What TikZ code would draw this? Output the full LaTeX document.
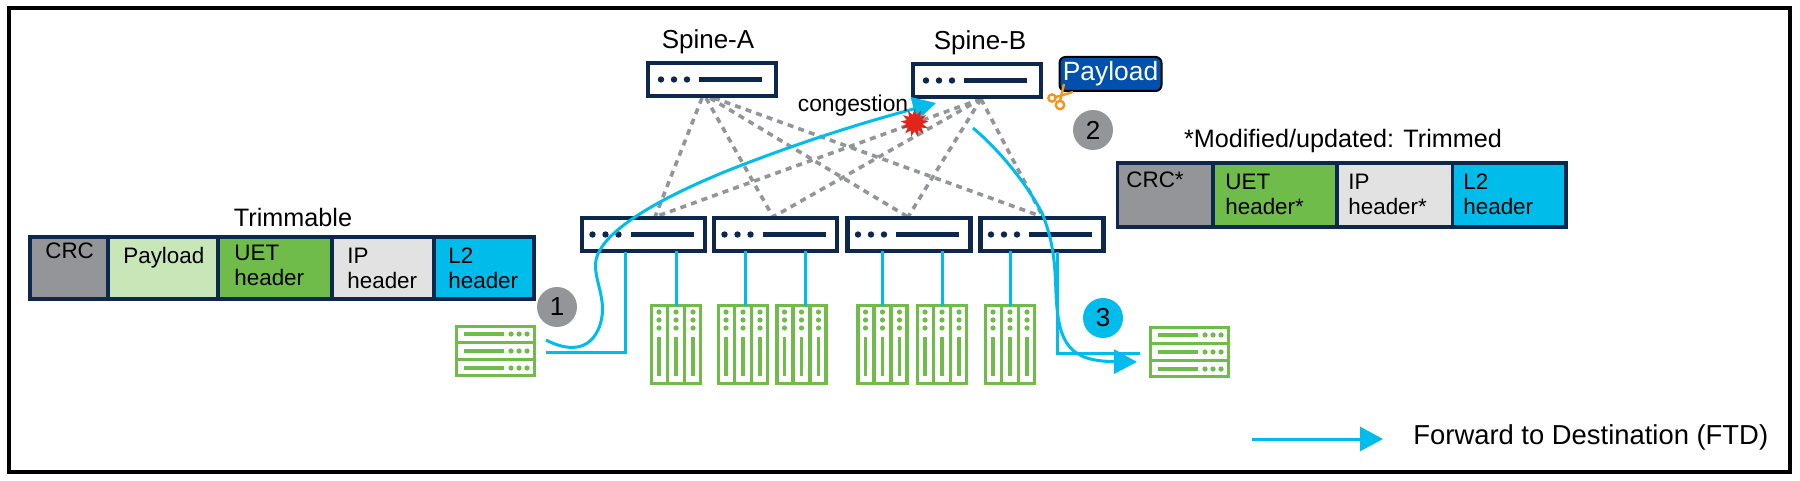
\documentclass[tikz,border=0pt]{standalone}
\usepackage{fontspec}
\setmainfont{Liberation Sans}
\usetikzlibrary{arrows.meta,shapes.geometric}
\definecolor{navy}{HTML}{0D274D}
\definecolor{cblue}{HTML}{00BCEB}
\definecolor{cgreen}{HTML}{70BC4B}
\definecolor{cpale}{HTML}{C8E6B8}
\definecolor{cgrey}{HTML}{939598}
\definecolor{clight}{HTML}{E2E2E2}
\definecolor{cbadge}{HTML}{0050AE}
\definecolor{corangec}{HTML}{F7941D}
\definecolor{cred}{HTML}{E3241B}
\tikzset{
  switchbox/.style={draw=navy,fill=white,line width=2.2pt,minimum width=#1,minimum height=16.5pt,inner sep=0pt,outer sep=0pt},
  rackbox/.style={draw=cgreen,fill=white,line width=1.7pt,minimum width=24.5pt,minimum height=39pt,inner sep=0pt,outer sep=0pt},
  serverbox/.style={draw=cgreen,fill=white,line width=1.7pt,minimum width=39pt,minimum height=24.5pt,inner sep=0pt,outer sep=0pt},
  cell/.style={draw=navy,line width=1.6pt,inner sep=0pt,outer sep=0pt,anchor=north west},
  celltext/.style={font=\fontsize{11.2}{12.5}\selectfont,inner sep=0pt,anchor=west,align=left},
  title/.style={font=\fontsize{12.6}{15}\selectfont,inner sep=0pt},
  numdot/.style={circle,minimum size=20pt,inner sep=0pt,font=\fontsize{13}{15}\selectfont},
  uplink/.style={cgrey,line width=1.8pt,dash pattern=on 3pt off 2.6pt},
  link/.style={cblue,line width=1.5pt},
  flow/.style={cblue,line width=1.5pt,-{Triangle[length=11.5pt,width=12pt]}},
}
\newcommand{\switchmark}[2]{%
  \foreach \o in {-51,-38,-25} \fill[navy] (#1+\o,#2) circle (3.2);
  \draw[navy,line width=2.2pt] (#1-13,#2) -- (#1+50,#2);
}
\newcommand{\rackmark}[1]{%
  \draw[cgreen,line width=1.7pt] (#1-8.5,304) -- (#1-8.5,385) (#1+8.5,304) -- (#1+8.5,385);
  \foreach \o in {-17,0,17}{
    \foreach \y in {312,320,328} \fill[cgreen] (#1+\o,\y) circle (2.6);
    \draw[cgreen,line width=1.6pt] (#1+\o,337) -- (#1+\o,376);
  }
}
\newcommand{\servermark}[2]{%
  \draw[cgreen,line width=1.7pt] (#1-40,#2-8.5) -- (#1+40,#2-8.5) (#1-40,#2+8.5) -- (#1+40,#2+8.5);
  \foreach \o in {-17,0,17}{
    \draw[cgreen,line width=1.6pt] (#1-32,#2+\o) -- (#1+8,#2+\o);
    \foreach \d in {15.5,23.5,31.5} \fill[cgreen] (#1+\d,#2+\o) circle (2.6);
  }
}
\begin{document}
\begin{tikzpicture}[x=0.5pt,y=-0.5pt]
\useasboundingbox (0,0) rectangle (1800,481);
\node[draw=black,line width=2pt,minimum width=890.5pt,minimum height=232pt,inner sep=0pt,outer sep=0pt,anchor=north west] (frame) at (9,8) {};

% coordinates of the dashed uplinks
\coordinate (sa1) at (702,98);
\coordinate (sa2) at (706,98);
\coordinate (sa3) at (710,98);
\coordinate (sa4) at (714,98);
\coordinate (sb) at (981,99);
\coordinate (d1) at (655,217);
\coordinate (d2) at (773,217);
\coordinate (d3) at (908,217);
\coordinate (d4) at (1043,217);
\draw[uplink] (sa1) -- (d1);
\draw[uplink] (sa2) -- (d2);
\draw[uplink] (sa3) -- (d3);
\draw[uplink] (sa4) -- (d4);
\draw[uplink] (sb) -- (d1);
\draw[uplink] (sb) -- (d2);
\draw[uplink] (sb) -- (d3);
\draw[uplink] (sb) -- (d4);

% spines
\node[switchbox=64pt] (spineA) at (712,79.5) {};
\switchmark{712}{79.5}
\node[switchbox=64pt] (spineB) at (977,80.5) {};
\switchmark{977}{80.5}
\node[title,font=\fontsize{13}{15}\selectfont] (labA) at (708,42) {Spine-A};
\node[title,font=\fontsize{13}{15}\selectfont] (labB) at (980,43) {Spine-B};

% leaves
\node[switchbox=61.5pt] (l1) at (643.5,234.5) {};
\node[switchbox=61.5pt] (l2) at (775.5,234.5) {};
\node[switchbox=61.5pt] (l3) at (909,234.5) {};
\node[switchbox=61.5pt] (l4) at (1042,234.5) {};
\switchmark{643.5}{234.5}
\switchmark{775.5}{234.5}
\switchmark{909}{234.5}
\switchmark{1042}{234.5}

% racks
\node[rackbox] (r1) at (676,344.5) {};
\node[rackbox] (r2) at (743,344.5) {};
\node[rackbox] (r3) at (801.5,344.5) {};
\node[rackbox] (r4) at (882.5,344.5) {};
\node[rackbox] (r5) at (942,344.5) {};
\node[rackbox] (r6) at (1010,344.5) {};
\rackmark{676}\rackmark{743}\rackmark{801.5}\rackmark{882.5}\rackmark{942}\rackmark{1010}

% servers
\node[serverbox] (s1) at (495.5,351) {};
\servermark{495.5}{351}
\node[serverbox] (s2) at (1189.5,352) {};
\servermark{1189.5}{352}

% leaf to rack links
\draw[link] (r1.north) -- (r1.north |- l1.south);
\draw[link] ([xshift=1pt]r2.north) -- ([xshift=1pt]r2.north |- l2.south);
\draw[link] ([xshift=1.8pt]r3.north) -- ([xshift=1.8pt]r3.north |- l2.south);
\draw[link] (r4.north) -- (r4.north |- l3.south);
\draw[link] (r5.north) -- (r5.north |- l3.south);
\draw[link] (r6.north) -- (r6.north |- l4.south);
\coordinate (a1) at (625.5,252);
\coordinate (a2) at (625.5,352);
\coordinate (a3) at (546,352);
\draw[link,line join=miter] (a1) -- (a2) -- (a3);
\coordinate (b1) at (1057,252);
\coordinate (b2) at (1057,353);
\coordinate (b3) at (1140,353);
\draw[link,line join=miter] (b1) -- (b2) -- (b3);

% flows
\coordinate (f1s) at (546,340);
\coordinate (f1e) at (936,103);
\coordinate (f2s) at (973,128);
\coordinate (f2e) at (1137,362);
\draw[flow] (f1s) .. controls (565,350) and (590,354) .. (600,325)
  .. controls (610,295) and (586,272) .. (600,250)
  .. controls (618,218) and (690,185) .. (742,165)
  .. controls (820,135) and (880,118) .. (f1e);
\draw[flow] (f2s) .. controls (1005,155) and (1030,190) .. (1042,213)
  .. controls (1055,245) and (1055,270) .. (1056,293)
  .. controls (1058,345) and (1070,361) .. (f2e);

\node[title,font=\fontsize{11.4}{14}\selectfont] (cong) at (853,106) {congestion};
\node[star,star points=13,star point ratio=1.7,fill=cred,minimum size=14pt,inner sep=0pt] (burst) at (914.5,123) {};

% payload badge and scissors
\node[draw=black,fill=cbadge,text=white,line width=1pt,rounded corners=3pt,minimum width=51pt,minimum height=17pt,inner sep=0pt,font=\fontsize{13.2}{15}\selectfont] (badge) at (1110.5,74) {Payload};
\coordinate (c1) at (1060,105);
\coordinate (c2) at (1052,98);
\draw[corangec,line width=1.2pt] (c1) circle (4.2);
\draw[corangec,line width=1.2pt] (c2) circle (3.6);
\draw[corangec,line width=1.2pt] (1060,101) -- (1064,84);
\draw[corangec,line width=1.2pt] (1056,97) -- (1073,92);

% numbered circles
\node[numdot,fill=cgrey] (n1) at (557,307) {1};
\node[numdot,fill=cgrey] (n2) at (1093,130) {2};
\node[numdot,fill=cblue] (n3) at (1103,318) {3};

% trimmable packet
\node[title] (tt) at (293,217) {Trimmable};
\node[cell,fill=cgrey,minimum width=39pt,minimum height=31pt] (p1) at (30,237) {};
\node[cell,fill=cpale,minimum width=55pt,minimum height=31pt] (p2) at (108,237) {};
\node[cell,fill=cgreen,minimum width=57pt,minimum height=31pt] (p3) at (218,237) {};
\node[cell,fill=clight,minimum width=51pt,minimum height=31pt] (p4) at (332,237) {};
\node[cell,fill=cblue,minimum width=50pt,minimum height=31pt] (p5) at (434,237) {};
\node[celltext] (pt1) at (45,251) {CRC};
\node[celltext] (pt2) at (123,258) {Payload};
\node[celltext] (pt3) at (234,265.5) {UET\\header};
\node[celltext] (pt4) at (347,268.5) {IP\\header};
\node[celltext] (pt5) at (448,268.5) {L2\\header};

% trimmed packet
\node[title] (mt) at (1343,141) {*Modified/updated: Trimmed};
\node[cell,fill=cgrey,minimum width=47.75pt,minimum height=32pt] (q1) at (1117.5,163) {};
\node[cell,fill=cgreen,minimum width=62pt,minimum height=32pt] (q2) at (1213,163) {};
\node[cell,fill=clight,minimum width=57.75pt,minimum height=32pt] (q3) at (1337,163) {};
\node[cell,fill=cblue,minimum width=56.75pt,minimum height=32pt] (q4) at (1452.5,163) {};
\node[celltext] (qt1) at (1126,180) {CRC*};
\node[celltext] (qt2) at (1225,194) {UET\\header*};
\node[celltext] (qt3) at (1348,194) {IP\\header*};
\node[celltext] (qt4) at (1463,194) {L2\\header};

% legend
\coordinate (k1) at (1252,439);
\coordinate (k2) at (1383,439);
\draw[flow] (k1) -- (k2);
\node[title,font=\fontsize{13.7}{16}\selectfont,anchor=west] (kt) at (1413,437) {Forward to Destination (FTD)};
\end{tikzpicture}
\end{document}
